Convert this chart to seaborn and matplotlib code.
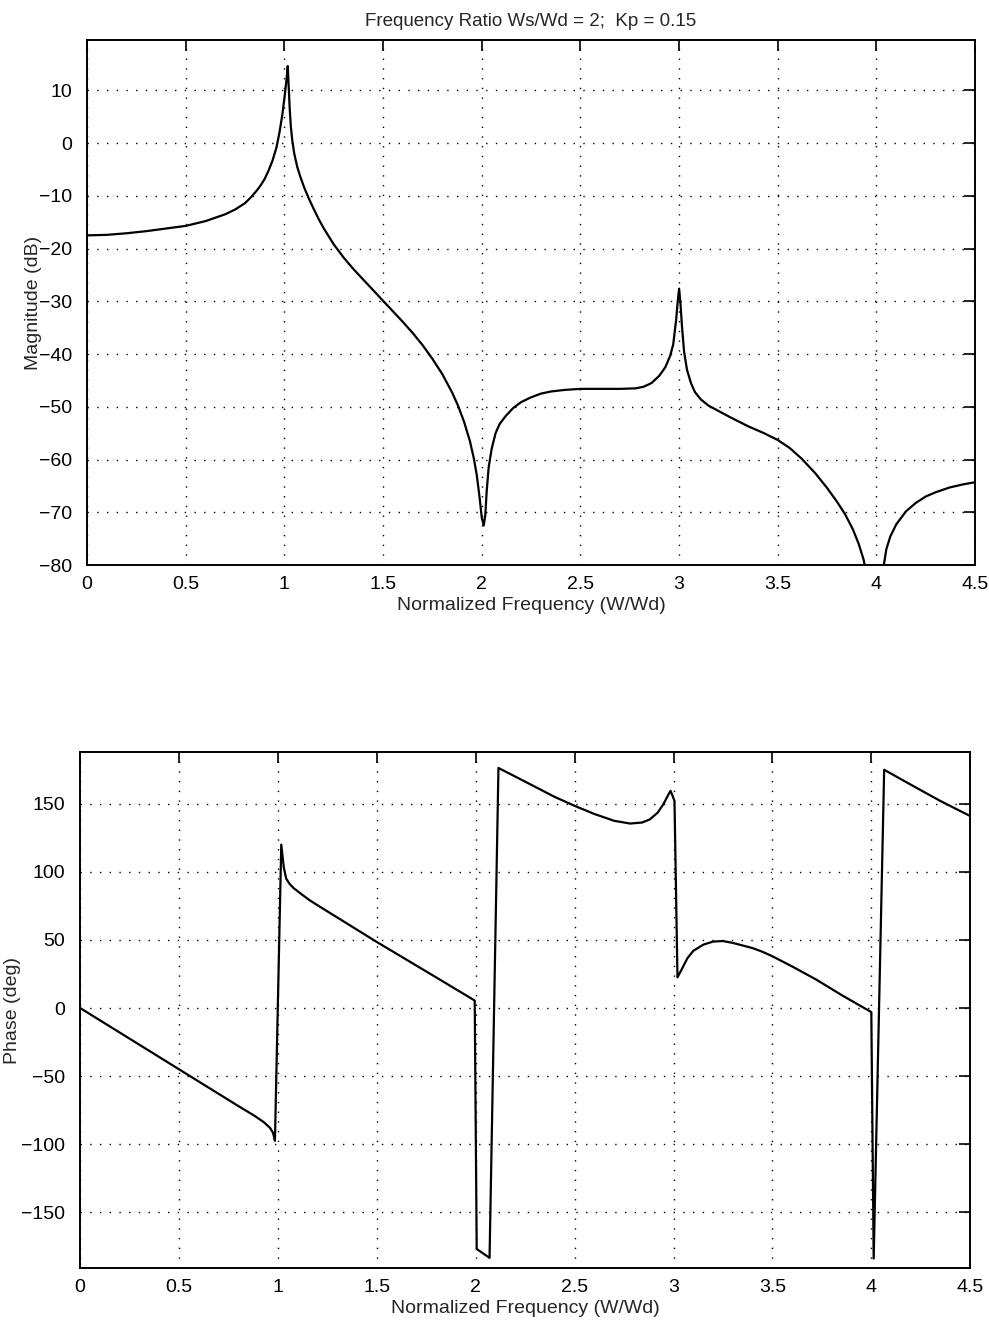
import numpy as np
import pandas as pd
import matplotlib
matplotlib.use("Agg")
import matplotlib.pyplot as plt
import seaborn as sns

# ---- data ----
mag_freq = [0, 0.1, 0.2, 0.3, 0.4, 0.5, 0.6, 0.7, 0.75, 0.8, 0.83, 0.86,
            0.88, 0.9, 0.92, 0.94, 0.96, 0.975, 0.99, 1.0, 1.01, 1.017,
            1.022, 1.027, 1.033, 1.04, 1.05, 1.065, 1.08, 1.1, 1.125, 1.15,
            1.175, 1.2, 1.25, 1.3, 1.35, 1.4, 1.45, 1.5, 1.55, 1.6, 1.65,
            1.7, 1.75, 1.8, 1.85, 1.88, 1.91, 1.94, 1.96, 1.975, 1.99, 2.0,
            2.01, 2.018, 2.025, 2.035, 2.05, 2.07, 2.09, 2.12, 2.16, 2.2,
            2.25, 2.3, 2.35, 2.42, 2.5, 2.6, 2.7, 2.78, 2.82, 2.86, 2.9,
            2.93, 2.955, 2.97, 2.985, 2.993, 3.0, 3.007, 3.015, 3.025, 3.04,
            3.06, 3.08, 3.11, 3.15, 3.2, 3.26, 3.35, 3.43, 3.5, 3.56, 3.62,
            3.69, 3.75, 3.8, 3.84, 3.88, 3.91, 3.935, 3.95, 3.97, 4.0, 4.02,
            4.035, 4.05, 4.07, 4.1, 4.15, 4.2, 4.25, 4.3, 4.37, 4.44, 4.5]
mag_db = [-17.5, -17.4, -17.1, -16.7, -16.2, -15.7, -14.8, -13.5, -12.6,
          -11.4, -10.3, -9.0, -8.0, -6.8, -5.2, -3.3, -0.8, 2.0, 5.5, 8.5,
          11.8, 14.6, 10.5, 6.5, 3.0, 0.5, -2.0, -4.5, -6.3, -8.4, -10.6,
          -12.6, -14.5, -16.2, -19.2, -21.7, -23.9, -25.9, -27.9, -29.9,
          -31.9, -33.9, -36.0, -38.3, -40.9, -43.8, -47.3, -49.8, -52.8,
          -56.5, -59.8, -63.0, -67.5, -71.0, -72.5, -70.5, -66.0, -61.5,
          -58.0, -55.0, -53.3, -51.8, -50.2, -49.1, -48.2, -47.5, -47.1,
          -46.8, -46.6, -46.6, -46.6, -46.5, -46.2, -45.5, -44.1, -42.5,
          -40.3, -38.2, -33.5, -30.0, -27.6, -30.5, -35.0, -39.5, -43.0,
          -45.5, -47.2, -48.6, -49.8, -50.8, -52.0, -53.7, -55.0, -56.3,
          -57.8, -59.8, -62.6, -65.4, -68.0, -70.3, -73.2, -76.0, -79.0,
          -82.0, -90.0, -110.0, -88.0, -80.5, -77.0, -74.6, -72.3, -69.8,
          -68.2, -67.0, -66.2, -65.3, -64.7, -64.3]

ph_freq = [0, 0.5, 0.8, 0.88, 0.93, 0.96, 0.975, 0.985, 1.017, 1.03, 1.042,
           1.06, 1.08, 1.12, 1.16, 1.2, 1.5, 1.8, 1.995, 2.005, 2.07, 2.115,
           2.2, 2.3, 2.4, 2.5, 2.6, 2.7, 2.78, 2.84, 2.88, 2.92, 2.95, 2.975,
           2.985, 2.995, 3.005, 3.02, 3.04, 3.07, 3.1, 3.15, 3.2, 3.25, 3.3,
           3.4, 3.45, 3.5, 3.6, 3.72, 3.85, 4.0, 4.012, 4.065, 4.2, 4.35,
           4.5]
ph_deg = [0, -45.0, -72.0, -79.0, -84.0, -88.0, -91.5, -97.5, 120.0, 103.0,
          95.0, 91.0, 88.0, 83.5, 79.2, 75.5, 48.5, 22.5, 5.5, -177.0,
          -183.5, 176.3, 170.0, 162.5, 155.0, 148.5, 142.5, 137.5, 135.5,
          136.2, 138.5, 143.5, 150.0, 157.0, 159.5, 156.0, 152.0, 22.5, 28.0,
          36.5, 42.0, 46.5, 48.8, 49.2, 47.8, 44.0, 41.3, 38.0, 30.5, 21.0,
          9.5, -3.0, -184.0, 175.0, 164.0, 152.0, 141.0]

x_ticks = [0, 0.5, 1, 1.5, 2, 2.5, 3, 3.5, 4, 4.5]
x_tick_labels = ["0", "0.5", "1", "1.5", "2", "2.5", "3", "3.5", "4", "4.5"]
mag_ticks = [-80, -70, -60, -50, -40, -30, -20, -10, 0, 10]
ph_ticks = [-150, -100, -50, 0, 50, 100, 150]

title_text = "Frequency Ratio Ws/Wd = 2;  Kp = 0.15"
xlabel_text = "Normalized Frequency (W/Wd)"

# ---- styling ----
sns.set_style("white")
plt.rcParams["font.family"] = ["Liberation Sans", "DejaVu Sans"]
plt.rcParams["axes.unicode_minus"] = True

FS = 14

fig = plt.figure(figsize=(9.89, 13.32), dpi=100)
ax1 = fig.add_axes([0.088, 0.5758, 0.898, 0.394])
ax2 = fig.add_axes([0.081, 0.048, 0.900, 0.3874])

mag_df = pd.DataFrame({"freq": mag_freq, "mag": mag_db})
ph_df = pd.DataFrame({"freq": ph_freq, "phase": ph_deg})

sns.lineplot(data=mag_df, x="freq", y="mag", ax=ax1, color="black",
             linewidth=1.6, sort=False, estimator=None)
sns.lineplot(data=ph_df, x="freq", y="phase", ax=ax2, color="black",
             linewidth=1.6, sort=False, estimator=None)


def fmt(v):
    return str(v).replace("-", "\u2212")


def style(ax, yticks, ylim, ylabel, ylab_x):
    ax.set_xlim(0, 4.5)
    ax.set_ylim(*ylim)
    ax.set_xticks(x_ticks)
    ax.set_xticklabels(x_tick_labels)
    ax.set_yticks(yticks)
    ax.set_yticklabels([fmt(v) for v in yticks])
    ax.grid(True, color="black", linestyle=(0, (1, 6)), linewidth=1.0)
    ax.tick_params(direction="in", length=8, width=1.2, top=True, right=True,
                   labelsize=FS, colors="black")
    ax.tick_params(axis="y", pad=11)
    ax.tick_params(axis="x", pad=8)
    for s in ax.spines.values():
        s.set_visible(True)
        s.set_color("black")
        s.set_linewidth(1.4)
    ax.set_xlabel(xlabel_text, fontsize=FS, labelpad=3)
    ax.set_ylabel(ylabel, fontsize=FS)
    ax.yaxis.set_label_coords(ylab_x, 0.5)
    ax.set_axisbelow(True)


style(ax1, mag_ticks, (-80, 19.5), "Magnitude (dB)", -0.051)
style(ax2, ph_ticks, (-191, 188), "Phase (deg)", -0.066)
ax1.set_title(title_text, fontsize=13.5, pad=10)

fig.savefig("out.png", dpi=100)
